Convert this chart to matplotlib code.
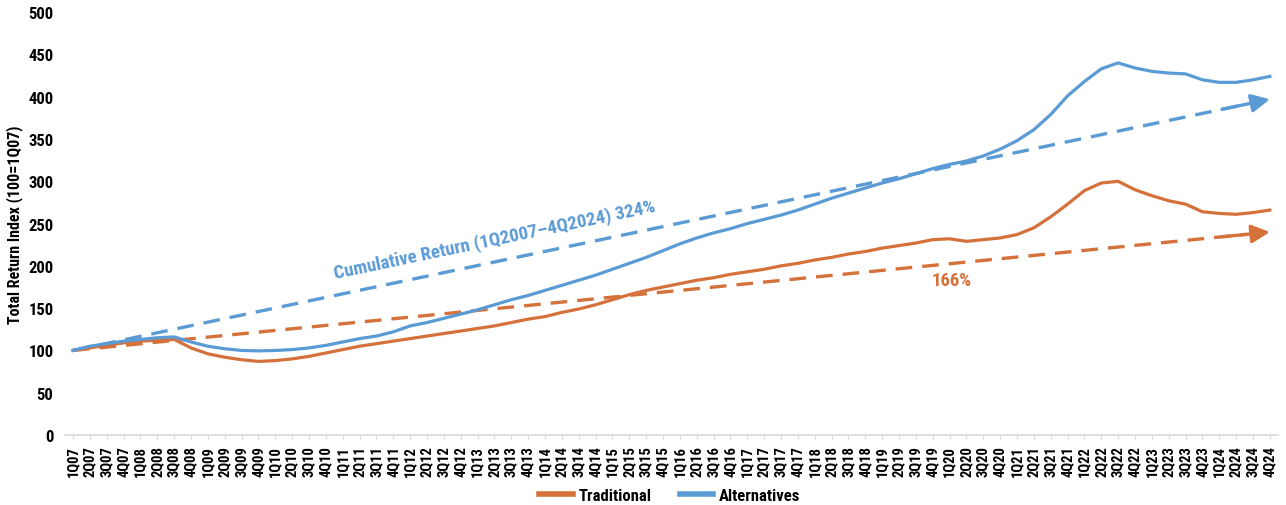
import matplotlib
matplotlib.use("Agg")
from matplotlib import pyplot as plt
from matplotlib import font_manager
import numpy as np

# Quarterly total return index, 100 = 1Q07
quarters = [f"{q}Q{y:02d}" for y in range(7, 25) for q in range(1, 5)]

traditional = [100, 103, 106, 109, 111, 112, 113, 103, 96, 92, 89, 87,
               88, 90, 93, 97, 101, 105, 108, 111, 114, 117, 120, 123,
               126, 129, 133, 137, 140, 145, 149, 154, 160, 166, 171, 175,
               179, 183, 186, 190, 193, 196, 200, 203, 207, 210, 214, 217,
               221, 224, 227, 231, 232, 229, 231, 233, 237, 245, 258, 273,
               289, 298, 300, 290, 283, 277, 273, 264, 262, 261, 263, 266]

alternatives = [100, 105, 108, 111, 113, 115, 116, 110, 105, 102, 100, 99.5,
                100, 101, 103, 106, 110, 114, 117, 122, 129, 133, 138, 143,
                148, 154, 160, 165, 171, 177, 183, 189, 196, 203, 210, 218,
                226, 233, 239, 244, 250, 255, 260, 266, 273, 280, 286, 292,
                298, 303, 309, 315, 320, 324, 330, 338, 348, 361, 379, 401,
                418, 433, 440, 434, 430, 428, 427, 420, 417, 417, 420, 424]

series_names = ["Traditional", "Alternatives"]
trend_start = [100, 100]
trend_end = [240, 397]
cumulative_labels = ["166%", "Cumulative Return (1Q2007\u20134Q2024) 324%"]

ORANGE = "#D5713A"
BLUE = "#5B9BD5"

installed = {f.name for f in font_manager.fontManager.ttflist}
family = [f for f in ["Liberation Sans Narrow", "Roboto Condensed", "DejaVu Sans"] if f in installed]
plt.rcParams["font.family"] = family
plt.rcParams["font.weight"] = "bold"

fig = plt.figure(figsize=(12.86, 5.06), dpi=100)
ax = fig.add_axes([0.0502, 0.1383, 0.9438, 0.8357])

x = np.arange(len(quarters))
ax.plot(x, traditional, color=ORANGE, lw=2.3, label=series_names[0], zorder=3)
ax.plot(x, alternatives, color=BLUE, lw=2.3, label=series_names[1], zorder=3)

ax.set_xlim(-0.5, len(quarters) - 0.5)
ax.set_ylim(0, 500)
ax.set_yticks(np.arange(0, 501, 50))
ax.set_xticks(x)
ax.set_xticklabels(quarters, rotation=90, fontsize=10.5, fontweight="bold")
ax.tick_params(axis="y", length=0, labelsize=12, pad=8)
ax.tick_params(axis="x", length=3, color="#D9D9D9", pad=4)
for lbl in ax.get_yticklabels():
    lbl.set_fontweight("bold")

for side in ["top", "right", "left"]:
    ax.spines[side].set_visible(False)
ax.spines["bottom"].set_color("#D9D9D9")
ax.spines["bottom"].set_linewidth(1.2)

ax.set_ylabel("Total Return Index (100=1Q07)", fontsize=11.5, fontweight="bold")
ax.yaxis.set_label_coords(-0.0345, 0.5)

# dashed trend arrows from start to end
x_end = x[-1]
for start, end, color in zip(trend_start, trend_end, [ORANGE, BLUE]):
    frac = 0.98
    ax.plot([0, x_end * frac], [start, start + (end - start) * frac],
            color=color, lw=2.4, ls=(0, (5, 3)), zorder=2)
    ax.annotate("", xy=(x_end, end), xytext=(x_end * 0.96, start + (end - start) * 0.96),
                arrowprops=dict(arrowstyle="-|>,head_length=1.1,head_width=0.55",
                                color=color, lw=2.4, shrinkA=0, shrinkB=0),
                zorder=2)

# slope angle of the blue trend for the rotated label
p0 = ax.transData.transform((0, trend_start[1]))
p1 = ax.transData.transform((x_end, trend_end[1]))
angle = np.degrees(np.arctan2(p1[1] - p0[1], p1[0] - p0[0]))

ax.text(25.0, 232, cumulative_labels[1], color=BLUE, fontsize=13.5, fontweight="bold",
        rotation=angle, rotation_mode="anchor", ha="center", va="center")
ax.text(52.1, 183, cumulative_labels[0], color=ORANGE, fontsize=13.5, fontweight="bold",
        ha="center", va="center")

leg = fig.legend(loc="lower center", bbox_to_anchor=(0.521, -0.025), ncol=2, frameon=False,
                 fontsize=12, handlelength=2.0, columnspacing=1.7, handletextpad=0.35)
for line in leg.get_lines():
    line.set_linewidth(4)
for t in leg.get_texts():
    t.set_fontweight("bold")

fig.savefig("out.png", dpi=100)
